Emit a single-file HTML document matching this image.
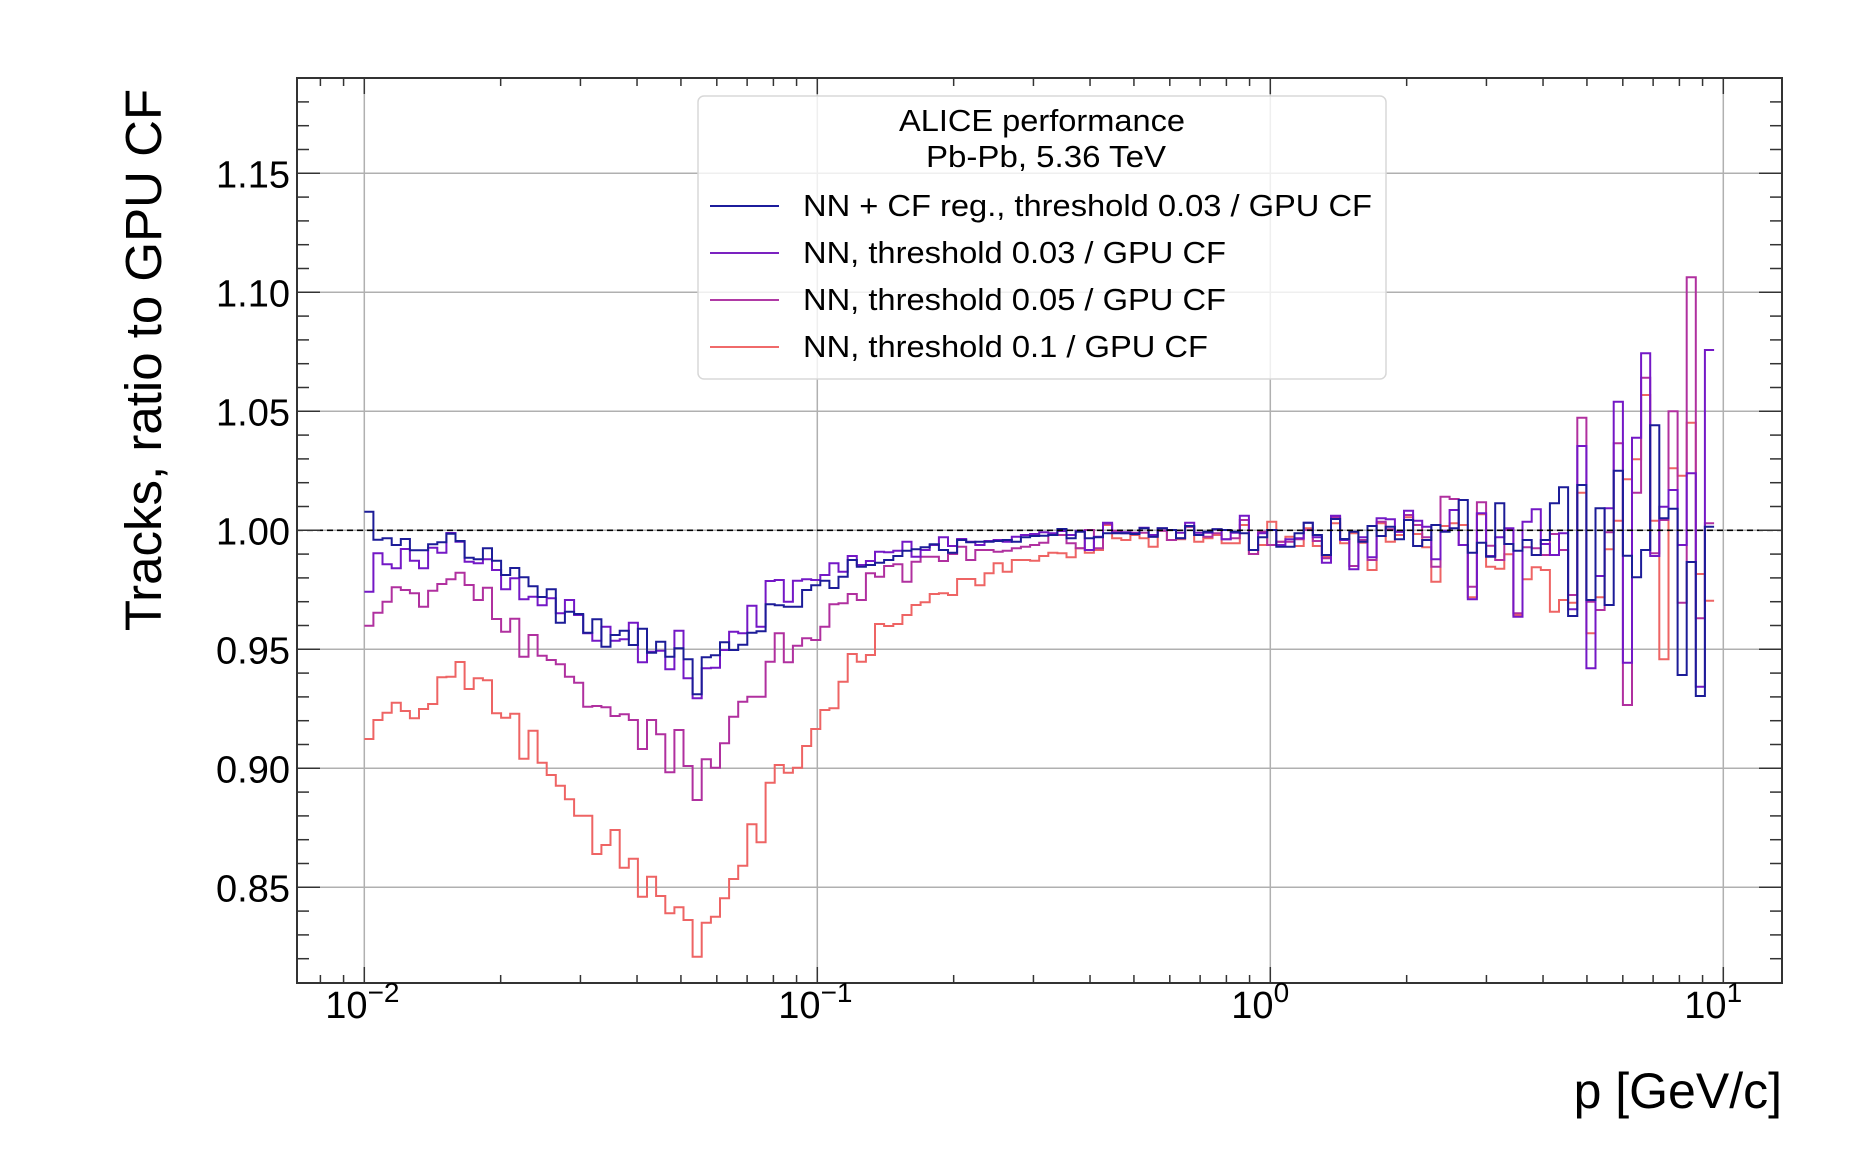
<!DOCTYPE html>
<html><head><meta charset="utf-8"><style>
html,body{margin:0;padding:0;background:#fff}
svg{display:block}
text{font-family:"Liberation Sans",Arial,sans-serif;fill:#000}
</style></head><body>
<svg id="s" width="1874" height="1170" viewBox="0 0 1874 1170" xmlns="http://www.w3.org/2000/svg">
<rect x="0" y="0" width="1874" height="1170" fill="#fff"/>
<g id="grid" stroke="#b0b0b0" stroke-width="1.5" fill="none"></g>
<g id="series" fill="none" stroke-width="2"></g>
<line x1="297" y1="530.3" x2="1782" y2="530.3" stroke="#000" stroke-width="1.6" stroke-dasharray="6,4"/>
<g id="ticks" stroke="#333" stroke-width="1.5"></g>
<rect x="297" y="78" width="1485" height="905" fill="none" stroke="#333" stroke-width="2"/>
<g id="labels" font-size="38"></g>
<rect x="698" y="96" width="688" height="283" rx="6" fill="#fff" fill-opacity="0.8" stroke="#d8d8d8" stroke-width="1.5"/>
<text x="899" y="131" font-size="31" textLength="286" lengthAdjust="spacingAndGlyphs">ALICE performance</text>
<text x="926" y="167" font-size="31" textLength="240" lengthAdjust="spacingAndGlyphs">Pb-Pb, 5.36 TeV</text>
<line x1="710" y1="206" x2="779" y2="206" stroke="#1c1c9c" stroke-width="2"/>
<text x="803" y="216" font-size="31" textLength="569" lengthAdjust="spacingAndGlyphs">NN + CF reg., threshold 0.03 / GPU CF</text>
<line x1="710" y1="253" x2="779" y2="253" stroke="#7b22c0" stroke-width="2"/>
<text x="803" y="263" font-size="31" textLength="423" lengthAdjust="spacingAndGlyphs">NN, threshold 0.03 / GPU CF</text>
<line x1="710" y1="300" x2="779" y2="300" stroke="#b03aa5" stroke-width="2"/>
<text x="803" y="310" font-size="31" textLength="423" lengthAdjust="spacingAndGlyphs">NN, threshold 0.05 / GPU CF</text>
<line x1="710" y1="347" x2="779" y2="347" stroke="#f06a6a" stroke-width="2"/>
<text x="803" y="357" font-size="31" textLength="405" lengthAdjust="spacingAndGlyphs">NN, threshold 0.1 / GPU CF</text>
<text x="1782" y="1108" font-size="50" text-anchor="end">p [GeV/c]</text>
<text transform="translate(161,360) rotate(-90)" font-size="51" text-anchor="middle">Tracks, ratio to GPU CF</text>
</svg>
<script>
var NS="http://www.w3.org/2000/svg";
function el(p,t,a,txt){var e=document.createElementNS(NS,t);for(var k in a)e.setAttribute(k,a[k]);if(txt!=null)e.textContent=txt;document.getElementById(p).appendChild(e);return e;}
var X0=364.3,DEC=453,L=297,R=1782,T=78,B=983;
function xl(v){return X0+DEC*(Math.log10(v)+2);}
function yv(v){return 530.3-(v-1)*2380;}
[0.01,0.1,1,10].forEach(function(d){var x=xl(d);el("grid","line",{x1:x,y1:T,x2:x,y2:B});});
[0.85,0.9,0.95,1.0,1.05,1.1,1.15].forEach(function(v){var y=yv(v);el("grid","line",{x1:L,y1:y,x2:R,y2:y});});
for(var e=-3;e<=1;e++){for(var m=1;m<=9;m++){var v=m*Math.pow(10,e);var x=xl(v);if(x<L+1||x>R-1)continue;var len=(m==1)?16:8;
el("ticks","line",{x1:x,y1:B,x2:x,y2:B-len});el("ticks","line",{x1:x,y1:T,x2:x,y2:T+len});}}
for(var i=81;i<=119;i++){var v=i/100;var y=yv(v);if(y<T+1||y>B-1)continue;var len=(i%5==0)?23:12;
el("ticks","line",{x1:L,y1:y,x2:L+len,y2:y});el("ticks","line",{x1:R,y1:y,x2:R-len,y2:y});}
[0.85,0.9,0.95,1.0,1.05,1.1,1.15].forEach(function(v){el("labels","text",{x:290,y:yv(v)+14,"text-anchor":"end"},v.toFixed(2));});
[[0.01,"−2"],[0.1,"−1"],[1,"0"],[10,"1"]].forEach(function(a){var x=xl(a[0]);var t=el("labels","text",{x:x-39,y:1018});
t.textContent="10";var s=document.createElementNS(NS,"tspan");s.setAttribute("font-size","28");s.setAttribute("dy","-16");s.textContent=a[1];t.appendChild(s);});
var D={
blue:[[500,[35,119,115,135,117,151,151,133,127,101,123,173,178,145,182,225,204,232,259,291,268,368,335,342,398,358,440,405,392,435,386,458,425,470,445,478,583,472,466,427,450,434,398,394,313,316,320,320,270,256,242,264]],
[480,[290,240,260,255,248,240,228,212,208,202,193,210,218,180,187,185,185,183,180,185,172,168,167,165,147,175,155,175,172,160,160,160,162,145,170,145,150,175,138,165,155,148,150,155,160,210,172,150,200,200,160,128]],
[460,[225,285,177,237,215,245,198,228,200,238,180,258,240,195,215,205,120,278,248,290,130,252,272,240,285,240,130]],
[270,[652,1038,645,990,715,1005,602,857,922,840,466,745,716,1215,876,1278,770]]],
purple:[[500,[275,160,193,205,147,182,205,143,158,99,125,185,190,178,210,268,235,298,290,316,295,340,300,345,400,422,380,422,418,368,487,455,452,508,392,535,595,505,503,450,395,400,317,380,243,240,305,242,238,240,225,190]],
[480,[275,228,255,243,215,217,212,185,230,210,195,172,198,177,185,195,183,180,185,170,165,162,157,160,153,165,152,210,170,128,158,157,160,143,165,145,150,158,128,158,158,148,178,158,107,210,160,150,195,178,175,128]],
[460,[232,308,167,240,328,232,292,175,178,215,152,182,200,298,212,150,255,418,160,288,232,205,470,185,148,252,285]],
[270,[790,1018,528,1195,918,715,395,1178,503,250,858,710,660,825,610,1250,240]]],
magenta:[[500,[377,338,305,262,270,280,320,272,252,238,218,255,300,263,357,395,356,470,405,467,480,493,530,548,620,618,622,648,643,660,747,660,703,817,690,798,900,778,803,730,650,605,590,590,485,400,487,437,415,420,380,313]],
[480,[370,342,360,280,290,258,253,305,245,230,230,243,222,200,240,210,210,215,212,205,200,195,188,165,165,190,205,150,205,132,152,160,158,158,170,152,180,175,140,165,170,160,178,175,120,222,155,195,185,185,178,150]],
[460,[243,295,172,237,318,240,300,185,208,215,165,195,232,320,110,117,255,380,127,257,300,210,460,262,265,285,222]],
[270,[840,975,443,995,1020,787,520,1305,668,323,850,750,424,998,22,1045,760]]],
red:[[500,[717,660,638,608,633,655,627,612,532,530,486,567,535,541,640,653,641,776,692,788,825,857,898,947,947,1062,1035,990,1103,1076,1190,1130,1188,1240,1222,1260,1370,1268,1250,1195,1137,1097,973,1027,848,795,818,803,738,687,630,625]],
[480,[605,522,545,525,432,438,432,405,375,367,342,340,345,297,297,316,280,250,275,240,240,242,228,218,220,232,205,218,210,135,175,180,165,175,200,152,180,178,140,185,175,165,190,190,135,222,195,125,185,170,198,145]],
[460,[258,290,190,250,220,248,330,190,245,225,172,222,262,365,198,190,195,412,163,320,326,283,465,358,322,330,455]],
[270,[990,998,668,1090,982,838,752,628,568,375,752,1168,595,617,458,912,992]]]};
var C={red:"#ee6464",magenta:"#b0309f",purple:"#7418c6",blue:"#1c1c98"};
["red","magenta","purple","blue"].forEach(function(n){var ys=[];D[n].forEach(function(s){s[1].forEach(function(z){ys.push(s[0]+z/3);});});
var w=9.12,d="";for(var k=0;k<ys.length;k++){var x0=X0+w*k,x1=x0+w;d+=(k==0?"M"+x0.toFixed(1)+" "+ys[k].toFixed(1):"V"+ys[k].toFixed(1))+"H"+x1.toFixed(1);}
el("series","path",{d:d,stroke:C[n]});});
</script>
</body></html>
